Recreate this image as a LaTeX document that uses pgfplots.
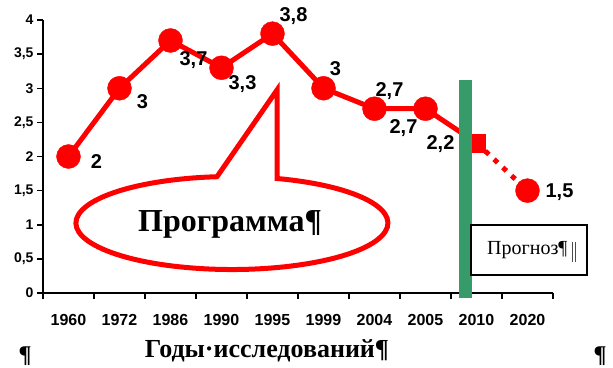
\documentclass[border=0pt]{standalone}
\usepackage{pgfplots}
\pgfplotsset{compat=1.18}
\usepackage{fontspec}
\setmainfont{Liberation Sans}
\newfontfamily\serif{Liberation Serif}
\definecolor{plotred}{RGB}{255,0,0}
\definecolor{forecastgreen}{RGB}{55,155,105}

\begin{document}
\begin{tikzpicture}[lab/.style={font=\bfseries\fontsize{20}{20}\selectfont, inner sep=0pt}]
\useasboundingbox (-43pt,-74pt) rectangle (570pt,293pt);
\begin{axis}[
  at={(0pt,0pt)}, anchor=south west,
  scale only axis, width=510pt, height=273pt,
  xmin=0, xmax=10, ymin=0, ymax=4,
  axis lines*=left,
  axis line style={line width=1.5pt, black},
  tick align=outside,
  tick style={line width=1.5pt, black},
  major tick length=6pt,
  xtick={0,...,10}, xticklabels={},
  extra x ticks={0.5,1.5,...,9.5},
  extra x tick labels={1960,1972,1986,1990,1995,1999,2004,2005,2010,2020},
  extra x tick style={major tick length=0pt, tick label style={yshift=-18pt}},
  xticklabel style={font=\bfseries\fontsize{16}{16}\selectfont},
  ytick={0,0.5,...,4},
  yticklabel style={font=\bfseries\fontsize{14}{14}\selectfont,
    /pgf/number format/use comma, /pgf/number format/assume math mode=true},
  clip=false,
]
% observed survey values
\addplot[plotred, line width=5pt, line join=round, mark=none] coordinates {
  (0.5,2) (1.5,3) (2.5,3.7) (3.5,3.3) (4.5,3.8) (5.5,3) (6.5,2.7) (7.5,2.7) (8.5,2.2)};
\addplot[only marks, mark=*, mark size=12pt, mark options={draw=plotred, fill=plotred}] coordinates {
  (0.5,2) (1.5,3) (2.5,3.7) (3.5,3.3) (4.5,3.8) (5.5,3) (6.5,2.7) (7.5,2.7)};
\addplot[only marks, mark=square*, mark size=9pt, mark options={draw=plotred, fill=plotred}] coordinates {(8.5,2.2)};
% forecast
\addplot[plotred, line width=5pt, dash pattern=on 5pt off 7pt, mark=none] coordinates {(8.5,2.2) (9.5,1.5)};
\addplot[only marks, mark=*, mark size=12pt, mark options={draw=plotred, fill=plotred}] coordinates {(9.5,1.5)};

% value labels
\node[lab, xshift=28pt, yshift=-5pt]  at (axis cs:0.5,2)   {2};
\node[lab, xshift=23pt, yshift=-13pt] at (axis cs:1.5,3)   {3};
\node[lab, xshift=23pt, yshift=-20pt] at (axis cs:2.5,3.7) {3,7};
\node[lab, xshift=21pt, yshift=-16pt] at (axis cs:3.5,3.3) {3,3};
\node[lab, xshift=21pt, yshift=18pt]  at (axis cs:4.5,3.8) {3,8};
\node[lab, xshift=12pt, yshift=20pt]  at (axis cs:5.5,3)   {3};
\node[lab, xshift=15pt, yshift=18pt]  at (axis cs:6.5,2.7) {2,7};
\node[lab, xshift=-22pt, yshift=-19pt] at (axis cs:7.5,2.7) {2,7};
\node[lab, xshift=-36pt, yshift=-1pt] at (axis cs:8.5,2.2) {2,2};
\node[lab, xshift=32pt, yshift=-2pt]  at (axis cs:9.5,1.5) {1,5};
\end{axis}

\begin{scope}[x=1pt, y=1pt]
% forecast boundary
\draw[forecastgreen, line width=13pt] (422,-5) -- (422,213);
% forecast box
\draw[line width=1.3pt, fill=white] (428,18) rectangle (544,68);
\node[font=\serif\fontsize{20}{20}\selectfont, anchor=base west, inner sep=0pt] at (444,38) {Прогноз¶};
\draw[line width=0.7pt, black!70] (529,31) -- (529,51);
\draw[line width=0.7pt, black!70] (532,31) -- (532,51);
% programme callout
\draw[plotred, line width=5pt, fill=white, line join=miter]
  (174,116.3) -- (234,203) -- (234,114.5)
  arc[start angle=73.2, end angle=-264.5, x radius=156, y radius=46.5] -- cycle;
\node[font=\serif\bfseries\fontsize{32}{32}\selectfont, anchor=base, inner sep=0pt] at (187,61) {Программа¶};
% axis title and paragraph marks
\node[font=\serif\bfseries\fontsize{26}{26}\selectfont, anchor=base, inner sep=0pt] at (224,-64) {Годы·исследований¶};
\node[font=\serif\bfseries\fontsize{24}{24}\selectfont, anchor=base, inner sep=0pt] at (-18,-69) {¶};
\node[font=\serif\bfseries\fontsize{24}{24}\selectfont, anchor=base, inner sep=0pt] at (557,-69) {¶};
\end{scope}
\end{tikzpicture}
\end{document}
